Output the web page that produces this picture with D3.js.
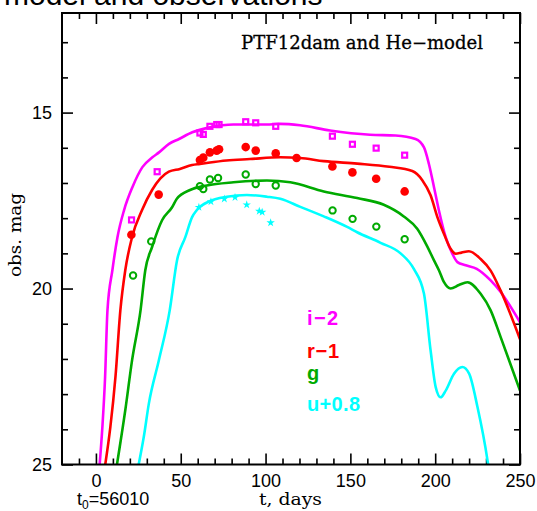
<!DOCTYPE html>
<html>
<head>
<meta charset="utf-8">
<script src="https://cdn.jsdelivr.net/npm/d3@7"></script>
<style>
    html, body { margin: 0; padding: 0; background: #fff; }
    svg { display: block; }
</style>
</head>
<body>
<div id="chart"></div>
<script>
// Model light curves, [t (days), obs. mag]
const modelI = [
    [2.2, 25.0], [3.8, 23.94], [5.4, 22.52], [6.8, 20.62], [9.7, 19.48], [12.7, 18.54],
    [16.6, 17.77], [21.5, 17.12], [27.4, 16.55], [33.3, 16.27], [37.2, 16.13], [43.1, 15.89],
    [49, 15.75], [56.8, 15.56], [67.2, 15.42], [81, 15.34], [100.6, 15.34], [108.5, 15.32],
    [120.3, 15.36], [138, 15.51], [161.6, 15.63], [176.6, 15.65], [188.4, 15.75], [193.4, 15.99],
    [196.3, 16.46], [199.3, 17.12], [202.2, 17.78], [206.2, 18.54], [210.1, 19.01], [213.1, 19.25],
    [218, 19.34], [224.5, 19.44], [232.7, 19.77], [238.6, 20.1], [250, 20.96],
];
const modelR = [
    [5.5, 25.0], [8.5, 23.94], [11.5, 22.52], [14.4, 20.62], [17.3, 19.48], [21.3, 18.54],
    [27.2, 17.77], [33.1, 17.2], [38, 16.87], [43, 16.68], [49.5, 16.6], [56.7, 16.49],
    [61.3, 16.46], [77, 16.36], [90.8, 16.32], [108.7, 16.27], [120.3, 16.29], [134.3, 16.38],
    [154, 16.45], [173, 16.54], [186.5, 16.66], [192.4, 16.92], [197.3, 17.35], [201.3, 17.97],
    [205.2, 18.45], [209.1, 18.87], [212.1, 19.01], [215.5, 18.98], [219.9, 18.94], [226.8, 19.16],
    [232.7, 19.49], [238.6, 20.06], [250, 21.44],
];
const modelG = [
    [12.4, 25.0], [17.3, 23.46], [21.3, 22.04], [26.3, 20.62], [29.1, 19.48], [33.1, 18.82],
    [39, 18.06], [44.9, 17.69], [47.7, 17.45], [55.5, 17.2], [65.4, 17.07], [81.1, 16.98],
    [100.8, 16.93], [114.6, 16.98], [134.3, 17.24], [154, 17.43], [169.7, 17.62], [181.5, 17.95],
    [189.4, 18.3], [195.3, 18.8], [199.3, 19.2], [202.2, 19.48], [205.2, 19.82], [209.1, 20.0],
    [214, 19.9], [219, 19.82], [226.8, 20.15], [232.7, 20.62], [238.6, 21.38], [250, 22.9],
];
const modelU = [
    [25.2, 25.0], [28.2, 24.22], [31.2, 23.27], [37.1, 22.04], [43.5, 20.62], [47.8, 19.2],
    [52.7, 18.54], [56.7, 17.97], [59.5, 17.77], [67.4, 17.51], [77.2, 17.39], [89, 17.34],
    [100.8, 17.39], [108.7, 17.45], [120.5, 17.68], [134.3, 17.95], [148.1, 18.25], [154, 18.4],
    [167.8, 18.7], [179.6, 19.0], [187.5, 19.45], [193.4, 20.15], [197.3, 21.76], [200.3, 22.8],
    [203.2, 23.09], [206.2, 22.9], [211.1, 22.42], [216, 22.23], [220, 22.42], [224.9, 23.36],
    [230.8, 24.87], [231.2, 25.0],
];

// Observations (PTF12dam), [t (days), obs. mag]
const obsI = [
    [21, 18.05], [36.1, 16.68], [61.3, 15.58], [63.3, 15.62], [67.2, 15.39], [71.2, 15.34],
    [72.6, 15.34], [88.3, 15.26], [94.2, 15.29], [106, 15.39], [139.4, 15.67], [151.2, 15.9],
    [165.2, 16.01], [182, 16.21],
];
const obsR = [
    [20.9, 18.47], [37, 17.33], [61.3, 16.35], [63.3, 16.28], [67.2, 16.13], [71.2, 16.08],
    [72.6, 16.04], [88.3, 15.98], [94.2, 16.08], [106, 16.16], [118.3, 16.29], [139.4, 16.53],
    [151.2, 16.7], [165.2, 16.88], [182, 17.24],
];
const obsG = [
    [21.9, 19.63], [32.6, 18.66], [61.3, 17.09], [63.3, 17.17], [67.2, 16.9], [72, 16.86],
    [88.3, 16.76], [94.2, 17.03], [106, 17.07], [139.5, 17.78], [151.3, 18.02], [165.3, 18.24],
    [182, 18.6],
];
const obsU = [
    [60.7, 17.69], [67.8, 17.53], [75.7, 17.45], [82, 17.41], [88.9, 17.62], [96.3, 17.8],
    [98, 17.83], [103, 18.13],
];

const bandLabels = ["i\u22122", "r\u22121", "g", "u+0.8"];
const bandColors = ["#ff00ff", "#ff0000", "#00aa00", "#00ffff"];

const xMajorTicks = [0, 50, 100, 150, 200, 250];
const xMinorTicks = d3.range(-10, 251, 10);
const yMajorTicks = [15, 20, 25];
const yMinorTicks = d3.range(13, 26, 1);

const W = 537, H = 511;
const plotL = 62, plotR = 520, plotT = 13, plotB = 464.5;

const svg = d3.select("#chart").append("svg")
    .attr("width", W)
    .attr("height", H);

const x = d3.scaleLinear().domain([-20, 250]).range([plotL, plotR]);
const y = d3.scaleLinear().domain([12.17, 25]).range([plotT, plotB]);

svg.append("defs").append("clipPath").attr("id", "plot-clip")
    .append("rect")
    .attr("x", plotL).attr("y", plotT)
    .attr("width", plotR - plotL).attr("height", plotB - plotT);

// Heading above the frame, cut by the page top as in the original
svg.append("text")
    .attr("x", 4).attr("y", 5)
    .attr("font-family", "Liberation Sans, Arial, sans-serif")
    .attr("font-size", 30)
    .attr("fill", "#000")
    .text("model and observations");

/**
 * Draw an inward tick set on one side of the frame
 * @param {Function} axisFn - d3.axisBottom etc.
 * @param {d3.ScaleLinear} scale
 * @param {[Number]} values
 * @param {Number} size - tick length
 * @param {String} transform
 * @param {Boolean} labels
 */
function ticks(axisFn, scale, values, size, transform, labels) {
    const axis = axisFn(scale)
        .tickValues(values)
        .tickSize(-size)
        .tickPadding(10)
        .tickFormat(labels ? d3.format("d") : "");
    const g = svg.append("g").attr("transform", transform).call(axis);
    g.select(".domain").remove();
    g.selectAll("line").attr("stroke", "#000").attr("stroke-width", 1.6);
    g.selectAll("text")
        .attr("fill", "#000")
        .attr("font-family", "Liberation Sans, Arial, sans-serif")
        .attr("font-size", 18);
    return g;
}

ticks(d3.axisBottom, x, xMinorTicks.filter((v) => v % 50), 6, `translate(0,${plotB})`, false);
ticks(d3.axisBottom, x, xMajorTicks, 11, `translate(0,${plotB})`, true);
ticks(d3.axisTop, x, xMinorTicks.filter((v) => v % 50), 6, `translate(0,${plotT})`, false);
ticks(d3.axisTop, x, xMajorTicks, 11, `translate(0,${plotT})`, false);
ticks(d3.axisLeft, y, yMinorTicks.filter((v) => v % 5), 6, `translate(${plotL},0)`, false);
ticks(d3.axisLeft, y, yMajorTicks, 11, `translate(${plotL},0)`, true);
ticks(d3.axisRight, y, yMinorTicks.filter((v) => v % 5), 6, `translate(${plotR},0)`, false);
ticks(d3.axisRight, y, yMajorTicks, 11, `translate(${plotR},0)`, false);

// Model curves
const line = d3.line()
    .x((d) => x(d[0]))
    .y((d) => y(d[1]))
    .curve(d3.curveMonotoneX);

const curves = svg.append("g").attr("clip-path", "url(#plot-clip)");
[modelI, modelR, modelG, modelU].forEach((data, i) => {
    curves.append("path")
        .datum(data)
        .attr("d", line)
        .attr("fill", "none")
        .attr("stroke", bandColors[i])
        .attr("stroke-width", 2.6)
        .attr("stroke-linejoin", "round");
});

// Observed points
const pts = svg.append("g");
pts.selectAll(".obs-i").data(obsI).join("rect")
    .attr("x", (d) => x(d[0]) - 2.5).attr("y", (d) => y(d[1]) - 2.5)
    .attr("width", 5).attr("height", 5)
    .attr("fill", "none").attr("stroke", bandColors[0]).attr("stroke-width", 2.2);
pts.selectAll(".obs-r").data(obsR).join("circle")
    .attr("cx", (d) => x(d[0])).attr("cy", (d) => y(d[1]))
    .attr("r", 4.3).attr("fill", bandColors[1]);
pts.selectAll(".obs-g").data(obsG).join("circle")
    .attr("cx", (d) => x(d[0])).attr("cy", (d) => y(d[1]))
    .attr("r", 3.2).attr("fill", "none").attr("stroke", bandColors[2]).attr("stroke-width", 2);
const star = d3.symbol().type(d3.symbolStar).size(22);
pts.selectAll(".obs-u").data(obsU).join("path")
    .attr("d", star)
    .attr("transform", (d) => `translate(${x(d[0])},${y(d[1])})`)
    .attr("fill", bandColors[3]);

// Frame
svg.append("rect")
    .attr("x", plotL).attr("y", plotT)
    .attr("width", plotR - plotL).attr("height", plotB - plotT)
    .attr("fill", "none").attr("stroke", "#000").attr("stroke-width", 2);

// Texts
const serif = "DejaVu Serif, serif";
svg.append("text")
    .attr("x", 241).attr("y", 49)
    .attr("font-family", serif).attr("font-size", 18)
    .attr("stroke", "#000").attr("stroke-width", 0.3)
    .attr("textLength", 242).attr("lengthAdjust", "spacingAndGlyphs")
    .text("PTF12dam and He\u2212model");

svg.append("text")
    .attr("transform", "translate(21,235) rotate(-90)")
    .attr("text-anchor", "middle")
    .attr("font-family", serif).attr("font-size", 17)
    .attr("textLength", 84).attr("lengthAdjust", "spacingAndGlyphs")
    .text("obs. mag");

svg.append("text")
    .attr("x", 259).attr("y", 505)
    .attr("font-family", serif).attr("font-size", 17)
    .attr("textLength", 63).attr("lengthAdjust", "spacingAndGlyphs")
    .text("t,  days");

const t0 = svg.append("text")
    .attr("x", 77).attr("y", 505)
    .attr("font-family", "Liberation Sans, Arial, sans-serif")
    .attr("font-size", 18);
t0.append("tspan").text("t");
t0.append("tspan").attr("dy", 4).attr("font-size", 12).text("0");
t0.append("tspan").attr("dy", -4).text("=56010");

// Band legend
const legendY = [325, 358, 380, 411];
const legendW = [31, 32, null, 53];
bandLabels.forEach((label, i) => {
    const t = svg.append("text")
        .attr("x", 307).attr("y", legendY[i])
        .attr("font-family", "Liberation Sans, Arial, sans-serif")
        .attr("font-weight", "bold")
        .attr("font-size", 20)
        .attr("fill", bandColors[i])
        .text(label);
    if (legendW[i]) t.attr("textLength", legendW[i]).attr("lengthAdjust", "spacing");
});
</script>
</body>
</html>
